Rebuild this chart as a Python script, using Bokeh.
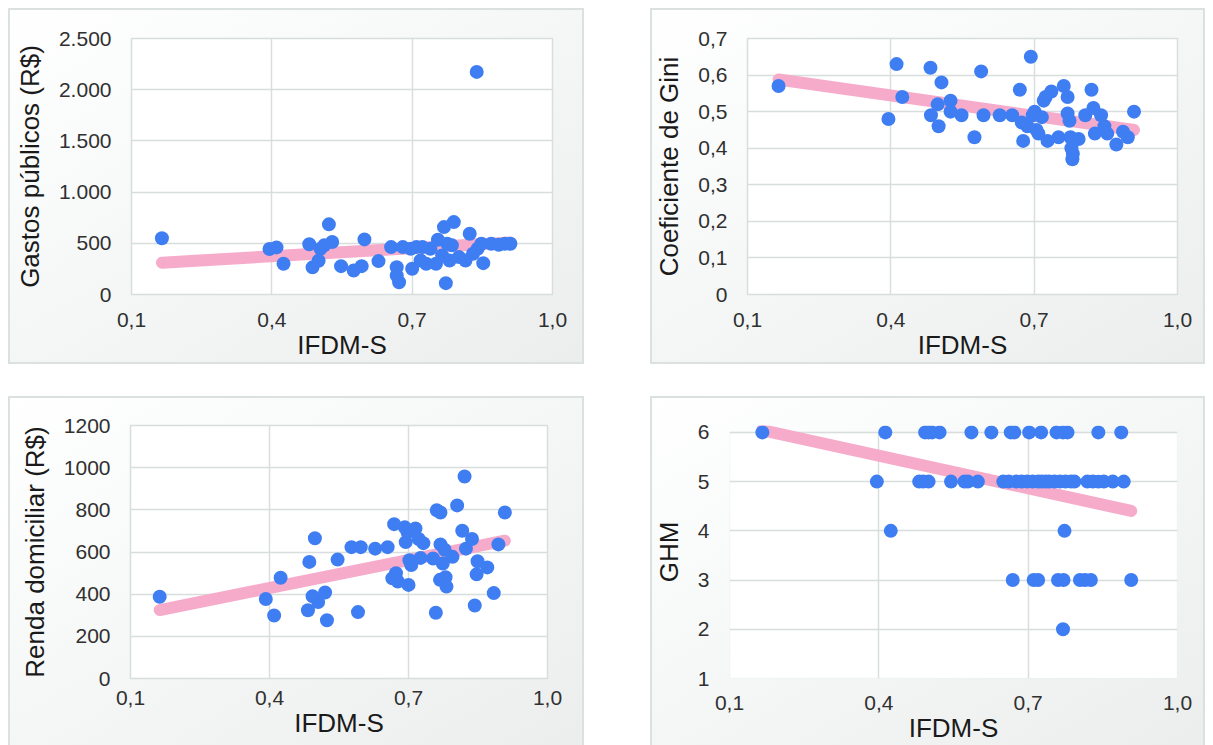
import numpy as np
from bokeh.plotting import figure
from bokeh.models import Range1d, FixedTicker, Spacer, BoxAnnotation
from bokeh.layouts import row, column
from bokeh.embed import file_html
from bokeh.resources import INLINE

# ---------------- data ----------------
x_ticks = [0.1, 0.4, 0.7, 1.0]
x_tick_labels = ["0,1", "0,4", "0,7", "1,0"]
x_title = "IFDM-S"

gastos_x = [0.165, 0.395, 0.41, 0.425, 0.48, 0.487, 0.50, 0.504, 0.512, 0.522,
            0.529, 0.548, 0.575, 0.592, 0.598, 0.628, 0.655, 0.667, 0.667, 0.672,
            0.68, 0.697, 0.70, 0.709, 0.718, 0.722, 0.73, 0.739, 0.751, 0.755,
            0.764, 0.768, 0.772, 0.775, 0.78, 0.785, 0.789, 0.80, 0.814, 0.823,
            0.83, 0.838, 0.84, 0.848, 0.852, 0.869, 0.885, 0.898, 0.91]
gastos_y = [550, 445, 460, 300, 490, 265, 330, 447, 480, 685,
            512, 277, 235, 277, 538, 326, 463, 267, 186, 120,
            463, 447, 251, 463, 332, 463, 300, 447, 300, 535,
            381, 658, 111, 495, 332, 480, 707, 365, 332, 593,
            398, 2174, 447, 495, 306, 495, 486, 495, 495]
gastos_ticks = [0, 500, 1000, 1500, 2000, 2500]
gastos_tick_labels = ["0", "500", "1.000", "1.500", "2.000", "2.500"]
gastos_title = "Gastos públicos (R$)"

gini_x = [0.165, 0.395, 0.412, 0.424, 0.483, 0.484, 0.498, 0.50, 0.506, 0.525,
          0.525, 0.548, 0.575, 0.589, 0.594, 0.628, 0.654, 0.67, 0.674, 0.677,
          0.686, 0.693, 0.697, 0.701, 0.705, 0.709, 0.716, 0.72, 0.724, 0.728,
          0.736, 0.751, 0.762, 0.77, 0.77, 0.774, 0.776, 0.778, 0.781, 0.78,
          0.793, 0.807, 0.82, 0.824, 0.827, 0.84, 0.847, 0.853, 0.872, 0.886,
          0.896, 0.909]
gini_y = [0.57, 0.48, 0.63, 0.54, 0.62, 0.49, 0.52, 0.46, 0.58, 0.53,
          0.50, 0.49, 0.43, 0.61, 0.49, 0.49, 0.49, 0.56, 0.47, 0.42,
          0.46, 0.65, 0.49, 0.50, 0.45, 0.44, 0.485, 0.53, 0.54, 0.42,
          0.555, 0.43, 0.57, 0.54, 0.495, 0.475, 0.43, 0.40, 0.385, 0.37,
          0.425, 0.49, 0.56, 0.51, 0.44, 0.49, 0.46, 0.44, 0.41, 0.445,
          0.43, 0.50]
gini_ticks = [0, 0.1, 0.2, 0.3, 0.4, 0.5, 0.6, 0.7]
gini_tick_labels = ["0", "0,1", "0,2", "0,3", "0,4", "0,5", "0,6", "0,7"]
gini_title = "Coeficiente de Gini"

renda_x = [0.163, 0.392, 0.41, 0.424, 0.483, 0.486, 0.493, 0.498, 0.505, 0.52,
           0.524, 0.547, 0.577, 0.591, 0.597, 0.628, 0.655, 0.665, 0.669, 0.673,
           0.677, 0.692, 0.694, 0.698, 0.70, 0.702, 0.706, 0.715, 0.722, 0.726,
           0.732, 0.753, 0.759, 0.761, 0.769, 0.768, 0.769, 0.774, 0.778, 0.78,
           0.782, 0.795, 0.805, 0.816, 0.821, 0.824, 0.837, 0.843, 0.847, 0.849,
           0.87, 0.884, 0.894, 0.908]
renda_y = [388, 377, 299, 478, 324, 553, 390, 665, 363, 408,
           276, 564, 623, 315, 623, 616, 623, 475, 732, 499,
           460, 717, 647, 693, 444, 561, 538, 712, 662, 572,
           642, 569, 312, 798, 787, 468, 636, 545, 611, 480,
           436, 577, 821, 701, 958, 616, 662, 346, 494, 556,
           527, 405, 636, 787]
renda_ticks = [0, 200, 400, 600, 800, 1000, 1200]
renda_tick_labels = ["0", "200", "400", "600", "800", "1000", "1200"]
renda_title = "Renda domiciliar (R$)"

ghm_x = [0.166, 0.413, 0.493, 0.50, 0.507, 0.522, 0.586, 0.626, 0.665, 0.672,
         0.702, 0.726, 0.757, 0.77, 0.779, 0.841, 0.887,
         0.396, 0.481, 0.489, 0.50, 0.545, 0.572, 0.579, 0.599, 0.65, 0.661,
         0.676, 0.687, 0.698, 0.709, 0.72, 0.727, 0.735, 0.742, 0.753, 0.764,
         0.775, 0.786, 0.793, 0.819, 0.83, 0.841, 0.852, 0.87, 0.892,
         0.424, 0.773,
         0.669, 0.711, 0.72, 0.76, 0.771, 0.804, 0.814, 0.826, 0.907,
         0.77]
ghm_y = [6, 6, 6, 6, 6, 6, 6, 6, 6, 6,
         6, 6, 6, 6, 6, 6, 6,
         5, 5, 5, 5, 5, 5, 5, 5, 5, 5,
         5, 5, 5, 5, 5, 5, 5, 5, 5, 5,
         5, 5, 5, 5, 5, 5, 5, 5, 5,
         4, 4,
         3, 3, 3, 3, 3, 3, 3, 3, 3,
         2]
ghm_ticks = [1, 2, 3, 4, 5, 6]
ghm_tick_labels = ["1", "2", "3", "4", "5", "6"]
ghm_title = "GHM"

# ---------------- style ----------------
FONT = "Liberation Sans"
GRID = "#d8dedd"
DOT = "#3f7ef2"
TREND = "#f7a6c8"
BOX = "#dbe1e0"


def panel(xs, ys, yticks, ylabels, ytitle, width, height,
          left, right, top, bottom, xstand, open_bottom=False, top_pad=0.0):
    ymin, ymax = yticks[0], yticks[-1]
    p = figure(width=width, height=height, output_backend="svg",
               toolbar_location=None,
               x_range=Range1d(x_ticks[0], x_ticks[-1]),
               y_range=Range1d(ymin, ymax + top_pad),
               min_border_left=left, min_border_right=right,
               min_border_top=top, min_border_bottom=bottom)
    p.border_fill_color = None
    if open_bottom:
        shadow = f"inset 2px 2px 0 0 {BOX}, inset -2px 0 0 0 {BOX}"
    else:
        shadow = f"inset 0 0 0 2px {BOX}"
    p.styles = {"background": "linear-gradient(150deg, #ffffff 0%, #f4f6f6 55%, #eceeee 100%)",
                "box-shadow": shadow}

    if top_pad > 0:
        # plotting area drawn as a box so that top-row markers are not cut
        p.background_fill_color = None
        p.outline_line_color = None
        p.add_layout(BoxAnnotation(left=x_ticks[0], right=x_ticks[-1],
                                   bottom=ymin, top=ymax,
                                   fill_color="white", fill_alpha=1.0,
                                   line_color=GRID, line_width=1.5,
                                   level="image"))
        p.xgrid.cross_bounds = (ymin, ymax)
    else:
        p.background_fill_color = "white"
        p.outline_line_color = GRID
        p.outline_line_width = 1.5

    p.xaxis.ticker = FixedTicker(ticks=x_ticks)
    p.xaxis.major_label_overrides = dict(zip(x_ticks, x_tick_labels))
    p.yaxis.ticker = FixedTicker(ticks=yticks)
    p.yaxis.major_label_overrides = dict(zip(yticks, ylabels))
    p.xgrid.ticker = FixedTicker(ticks=x_ticks)
    p.ygrid.ticker = FixedTicker(ticks=yticks)
    for g in (p.xgrid, p.ygrid):
        g.grid_line_color = GRID
        g.grid_line_width = 1.5

    p.xaxis.axis_label = x_title
    p.yaxis.axis_label = ytitle
    for ax in (p.xaxis, p.yaxis):
        ax.axis_line_color = None
        ax.major_tick_line_color = None
        ax.minor_tick_line_color = None
        ax.major_tick_out = 0
        ax.major_tick_in = 0
        ax.major_label_text_font = FONT
        ax.major_label_text_font_size = "21px"
        ax.major_label_text_color = "#303030"
        ax.axis_label_text_font = FONT
        ax.axis_label_text_font_size = "26px"
        ax.axis_label_text_font_style = "normal"
        ax.axis_label_text_color = "#1a1a1a"
    p.xaxis.major_label_standoff = xstand
    p.xaxis.axis_label_standoff = 0
    p.yaxis.major_label_standoff = 20
    p.yaxis.axis_label_standoff = 11

    # trend line (least squares fit of the data)
    xa = np.array(xs, dtype=float)
    ya = np.array(ys, dtype=float)
    slope, inter = np.polyfit(xa, ya, 1)
    lx = [xa.min(), xa.max()]
    ly = [inter + slope * v for v in lx]
    p.line(lx, ly, line_color=TREND, line_width=12, line_cap="round", line_alpha=0.95)
    p.scatter(xs, ys, size=14, fill_color=DOT, line_color=None)
    return p


p1 = panel(gastos_x, gastos_y, gastos_ticks, gastos_tick_labels, gastos_title,
           576, 356, 123, 32, 30, 70, 18)
p2 = panel(gini_x, gini_y, gini_ticks, gini_tick_labels, gini_title,
           555, 356, 97, 28, 30, 70, 18)
p3 = panel(renda_x, renda_y, renda_ticks, renda_tick_labels, renda_title,
           576, 349, 122, 37, 29, 65, 12, open_bottom=True)
p4 = panel(ghm_x, ghm_y, ghm_ticks, ghm_tick_labels, ghm_title,
           555, 349, 78, 28, 23, 67, 17, open_bottom=True, top_pad=0.14)

layout = column(
    Spacer(height=8),
    row(Spacer(width=8),
        column(row(p1, Spacer(width=66), p2),
               Spacer(height=32),
               row(p3, Spacer(width=66), p4))),
)

open("out.html", "w").write(file_html(layout, INLINE))
